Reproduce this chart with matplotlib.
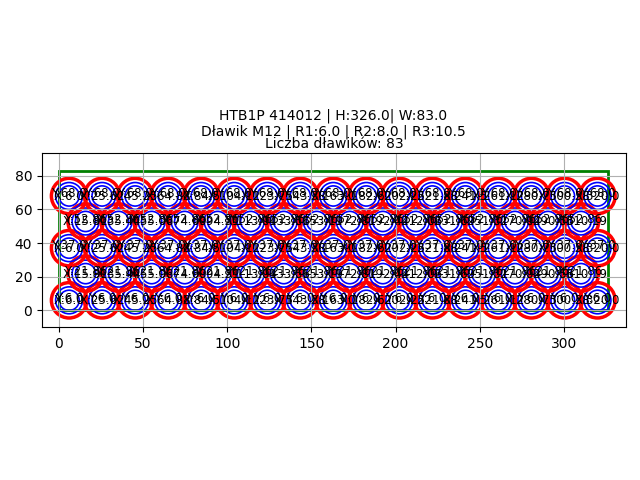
import matplotlib
matplotlib.use('Agg')
import matplotlib.pyplot as plt
from matplotlib.patches import Circle, Rectangle

H = 326.0
W = 83.0
R1 = 6.0
R2 = 8.0
R3 = 10.5

x_long = [6.0, 25.62, 45.25, 64.88, 84.5, 104.12, 123.75, 143.38, 163.0,
          182.62, 202.25, 221.88, 241.5, 261.12, 280.75, 300.38, 320.0]
x_short = [15.81, 35.44, 55.06, 74.69, 94.31, 113.94, 133.56, 153.19,
           172.81, 192.44, 212.06, 231.69, 251.31, 270.94, 290.56, 310.19]
rows = [6.0, 21.86, 37.0, 52.86, 68.0]
row_x = [x_long, x_short, x_long, x_short, x_long]

fig, ax = plt.subplots(figsize=(6.4, 4.8), dpi=100)

ax.add_patch(Rectangle((0, 0), H, W, fill=False, edgecolor='green', linewidth=2))

for y, xs in zip(rows, row_x):
    for x in xs:
        ax.add_patch(Circle((x, y), R1, fill=False, edgecolor='blue', linewidth=1.2))
        ax.add_patch(Circle((x, y), R2, fill=False, edgecolor='blue', linewidth=1.2))
        ax.add_patch(Circle((x, y), R3, fill=False, edgecolor='red', linewidth=2.5))
        ax.text(x, y + 1.3, f"Y:{y}", ha='center', va='center', fontsize=8.5)
        ax.text(x, y - 0.3, f"X:{x}", ha='center', va='center', fontsize=8.5)

ax.set_aspect('equal')
ax.set_xlim(-10.1, 336.9)
ax.set_ylim(-10, 93.4)
ax.grid(True)
ax.set_title("Liczba dławików: 83", fontsize=10, pad=4)
fig.text(0.521, 0.71, "HTB1P 414012 | H:326.0| W:83.0\nDławik M12 | R1:6.0 | R2:8.0 | R3:10.5",
         ha='center', va='bottom', fontsize=10)
fig.subplots_adjust(left=0.0656, right=0.978, top=0.681, bottom=0.318)
fig.savefig('out.png', dpi=100)
